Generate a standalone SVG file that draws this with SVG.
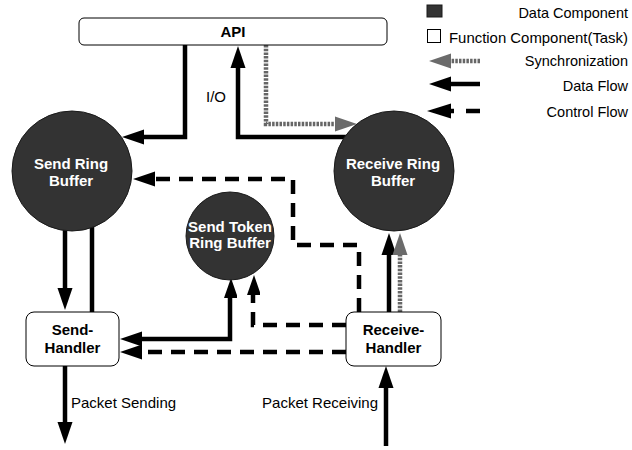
<svg xmlns="http://www.w3.org/2000/svg" width="632" height="450" viewBox="0 0 632 450">
<style>
  .bg { fill: #ffffff; }
  .data { fill: #333333; stroke: #1a1a1a; stroke-width: 1; }
  .task { fill: #ffffff; stroke: #000000; stroke-width: 1; }
  .lbl { font-family: "Liberation Sans", Arial, sans-serif; font-size: 15px; fill: #000; }
  .leg { font-family: "Liberation Sans", Arial, sans-serif; font-size: 14.5px; fill: #000; }
  .bold { font-family: "Liberation Sans", Arial, sans-serif; font-size: 15px; font-weight: bold; text-anchor: middle; }
  .white { fill: #ffffff; }
  .black { fill: #000000; }
  .flow { fill: none; stroke: #000; stroke-width: 4.5; }
  .ctrl { fill: none; stroke: #000; stroke-width: 4.5; stroke-dasharray: 14 9; }
  .sync { fill: none; stroke: #666666; stroke-width: 4.5; stroke-dasharray: 2.5 1.2; }
</style>
<defs>
  <marker id="ah" viewBox="0 -8 22 16" refX="0" refY="0" markerWidth="22" markerHeight="16" markerUnits="userSpaceOnUse" orient="auto-start-reverse">
    <path d="M0,-7.5 L22,0 L0,7.5 z" fill="#000"/>
  </marker>
  <marker id="ahs" viewBox="0 -8 20 14" refX="0" refY="-1" markerWidth="20" markerHeight="14" markerUnits="userSpaceOnUse" orient="auto-start-reverse">
    <path d="M0,-7 L20,0 L0,7 z" fill="#000"/>
  </marker>
  <marker id="ahg" viewBox="0 -8 22 16" refX="0" refY="0" markerWidth="22" markerHeight="16" markerUnits="userSpaceOnUse" orient="auto">
    <path d="M0,-7.5 L22,0 L0,7.5 z" fill="#6b6b6b"/>
  </marker>
</defs>
<rect class="bg" x="0" y="0" width="632" height="450"/>

<g id="connectors">
  <!-- API -> Send Ring Buffer -->
  <path class="flow" d="M185,45 V137 H144" marker-end="url(#ah)"/>
  <!-- Receive Ring Buffer -> API -->
  <path class="flow" d="M346,137 H238 V68" marker-end="url(#ah)"/>
  <!-- Sync API -> Receive Ring Buffer -->
  <path class="sync" d="M266,45 V124 H335" marker-end="url(#ahg)"/>
  <!-- Control: Receive-Handler -> Send Ring Buffer -->
  <path class="ctrl" d="M359,312 V245 H293 V179 H155" marker-end="url(#ah)"/>
  <!-- Send Ring Buffer -> Send-Handler -->
  <path class="flow" d="M65,230 V288" marker-end="url(#ah)"/>
  <path class="flow" d="M92,227 V312"/>
  <!-- Send-Handler <-> Send Token Ring Buffer -->
  <path class="flow" d="M142,339 H230 V298" marker-start="url(#ah)" marker-end="url(#ahs)"/>
  <!-- Control: Receive-Handler -> Send Token Ring Buffer -->
  <path class="ctrl" d="M346,325 H253 V295" marker-end="url(#ahs)"/>
  <!-- Control: Receive-Handler -> Send-Handler -->
  <path class="ctrl" d="M346,352 H142" marker-end="url(#ah)"/>
  <!-- Receive-Handler -> Receive Ring Buffer -->
  <path class="flow" d="M389,312 V255" marker-end="url(#ah)"/>
  <path class="sync" d="M400,312 V255" marker-end="url(#ahg)"/>
  <!-- Packet Sending -->
  <path class="flow" d="M65,366 V422" marker-end="url(#ah)"/>
  <!-- Packet Receiving -->
  <path class="flow" d="M386,446 V388" marker-end="url(#ah)"/>
</g>

<g id="api">
  <rect class="task" x="79" y="18" width="308" height="27" rx="5"/>
  <text class="bold black" x="233" y="37">API</text>
</g>

<g id="send-ring-buffer">
  <circle class="data" cx="72" cy="171" r="60"/>
  <text class="bold white" x="71" y="169">Send Ring</text>
  <text class="bold white" x="71" y="186">Buffer</text>
</g>

<g id="receive-ring-buffer">
  <circle class="data" cx="394" cy="171" r="60"/>
  <text class="bold white" x="393" y="169">Receive Ring</text>
  <text class="bold white" x="393" y="186">Buffer</text>
</g>

<g id="send-token-ring-buffer">
  <circle class="data" cx="230" cy="236" r="44"/>
  <text class="bold white" x="230" y="232">Send Token</text>
  <text class="bold white" x="230" y="248">Ring Buffer</text>
</g>

<g id="send-handler">
  <rect class="task" x="26" y="312" width="93" height="54" rx="8"/>
  <text class="bold black" x="72.5" y="335">Send-</text>
  <text class="bold black" x="72.5" y="353">Handler</text>
</g>

<g id="receive-handler">
  <rect class="task" x="346" y="312" width="95" height="54" rx="8"/>
  <text class="bold black" x="393.5" y="335">Receive-</text>
  <text class="bold black" x="393.5" y="353">Handler</text>
</g>

<g id="labels">
  <text class="lbl" x="206" y="102">I/O</text>
  <text class="lbl" x="71" y="408">Packet Sending</text>
  <text class="lbl" x="378" y="408" text-anchor="end">Packet Receiving</text>
</g>

<g id="legend">
  <rect class="data" x="427" y="5" width="15" height="12"/>
  <text class="leg" x="628" y="18" text-anchor="end">Data Component</text>
  <rect class="task" x="427.5" y="29.5" width="13" height="13"/>
  <text class="leg" x="449" y="43" textLength="179" lengthAdjust="spacingAndGlyphs">Function Component(Task)</text>
  <path class="sync" d="M480,61 H451" marker-end="url(#ahg)"/>
  <text class="leg" x="628" y="66" text-anchor="end">Synchronization</text>
  <path class="flow" d="M480,84 H451" marker-end="url(#ah)"/>
  <text class="leg" x="628" y="91" text-anchor="end">Data Flow</text>
  <path d="M427,111 L451,103.5 L451,118.5 z" fill="#000"/>
  <path class="flow" d="M450,111 H454"/>
  <path class="flow" d="M466,111 H480"/>
  <text class="leg" x="628" y="117" text-anchor="end">Control Flow</text>
</g>
</svg>
